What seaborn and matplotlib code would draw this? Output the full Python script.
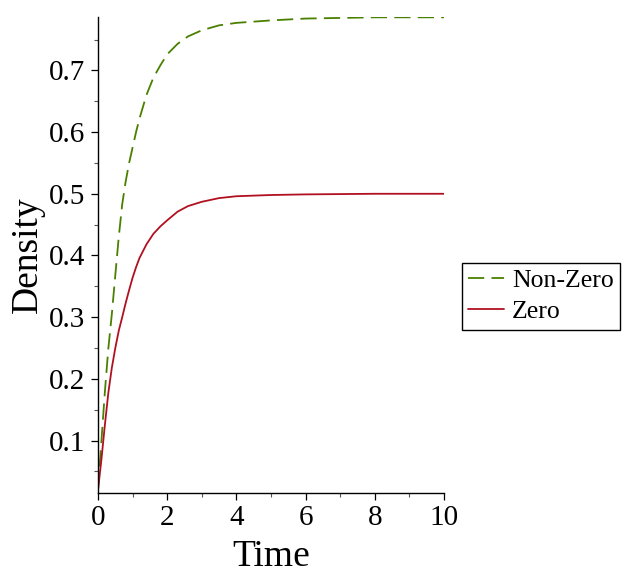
import numpy as np
import pandas as pd
import matplotlib
matplotlib.use("Agg")
import matplotlib.pyplot as plt
import seaborn as sns
from matplotlib.ticker import MultipleLocator

# ---- data ----
time = [0.0, 0.05, 0.1, 0.2, 0.3, 0.4, 0.5, 0.6, 0.7, 0.8, 0.9, 1.0, 1.1,
        1.2, 1.4, 1.6, 1.8, 2.0, 2.3, 2.6, 3.0, 3.5, 4.0, 5.0, 6.0, 8.0, 10.0]
nonzero = [0.020, 0.060, 0.100, 0.180, 0.250, 0.305, 0.368, 0.430, 0.483,
           0.520, 0.550, 0.575, 0.600, 0.622, 0.660, 0.688, 0.708, 0.726,
           0.743, 0.755, 0.765, 0.773, 0.777, 0.781, 0.784, 0.786, 0.786]
zero = [0.020, 0.045, 0.070, 0.126, 0.178, 0.218, 0.250, 0.278, 0.300,
        0.323, 0.344, 0.364, 0.381, 0.396, 0.418, 0.435, 0.447, 0.457,
        0.471, 0.480, 0.487, 0.493, 0.496, 0.498, 0.499, 0.500, 0.500]
series_names = ["Non-Zero", "Zero"]
x_ticks = [0, 2, 4, 6, 8, 10]
y_ticks = [0.1, 0.2, 0.3, 0.4, 0.5, 0.6, 0.7]

df = pd.DataFrame({
    "Time": time * 2,
    "Density": nonzero + zero,
    "series": [series_names[0]] * len(time) + [series_names[1]] * len(time),
})

sns.set_style("ticks")
plt.rcParams["font.family"] = ["Liberation Serif", "DejaVu Serif"]
plt.rcParams["text.color"] = "black"
plt.rcParams["axes.labelcolor"] = "black"
plt.rcParams["xtick.color"] = "black"
plt.rcParams["ytick.color"] = "black"

fig = plt.figure(figsize=(6.23, 5.74), dpi=100)
ax = fig.add_axes([98 / 623, 1 - 492.7 / 574, (444 - 98) / 623, (492.7 - 16.7) / 574])

palette = {"Non-Zero": "#4a8000", "Zero": "#b01020"}
dashes = {"Non-Zero": (9, 4), "Zero": ""}
sns.lineplot(data=df, x="Time", y="Density", hue="series", style="series",
             hue_order=series_names, style_order=series_names,
             palette=palette, dashes=dashes, linewidth=1.3, ax=ax)

ax.set_xlim(0, 10)
ax.set_ylim(0.0155, 0.787)
ax.set_xticks(x_ticks)
ax.set_xticklabels([str(v) for v in x_ticks])
ax.set_yticks(y_ticks)
ax.set_yticklabels([f"{v:.1f}" for v in y_ticks])
ax.xaxis.set_minor_locator(MultipleLocator(1))
ax.yaxis.set_minor_locator(MultipleLocator(0.05))
ax.tick_params(which="major", length=5, width=0.9, labelsize=21,
               color="black", labelcolor="black", pad=4)
ax.tick_params(which="minor", length=3, width=0.8, color="#555555")
for s in ["top", "right"]:
    ax.spines[s].set_visible(False)
for s in ["left", "bottom"]:
    ax.spines[s].set_linewidth(1.0)
    ax.spines[s].set_color("black")

ax.set_xlabel("Time", fontsize=27, labelpad=6, color="black")
ax.set_ylabel("Density", fontsize=27, labelpad=3, color="black")

sns.move_legend(ax, "upper left", bbox_to_anchor=(462 / 623, 1 - 263 / 574),
                bbox_transform=fig.transFigure, title=None, frameon=True,
                fancybox=False, fontsize=18.5, handlelength=1.4,
                handletextpad=0.3, borderpad=0.25, labelspacing=0.3,
                borderaxespad=0, edgecolor="black")
leg = ax.get_legend()
leg.get_frame().set_linewidth(1.0)
leg.get_frame().set_alpha(1)
for t in leg.get_texts():
    t.set_color("black")

fig.savefig("out.png", dpi=100)
